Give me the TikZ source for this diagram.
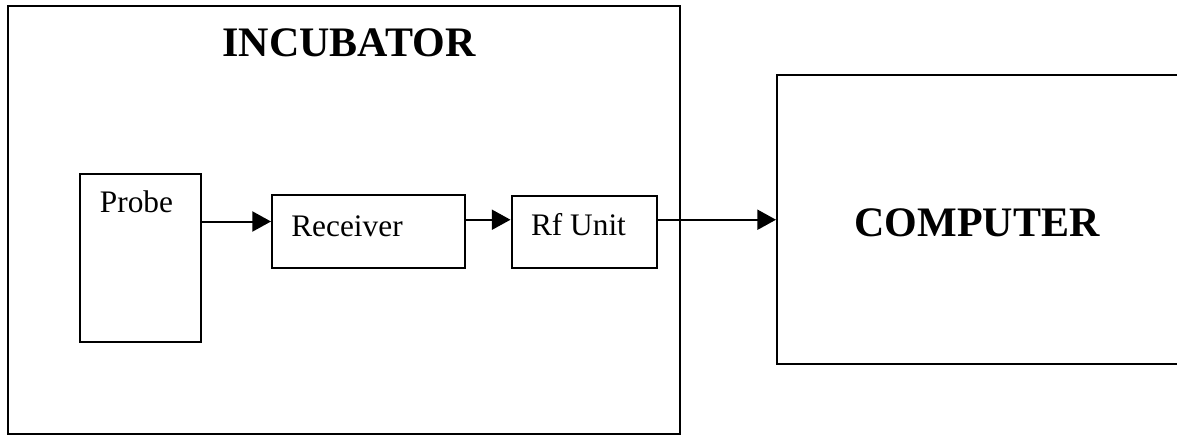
\documentclass[tikz,border=0pt]{standalone}
\usepackage{fontspec}
\setmainfont{Liberation Serif}
\usetikzlibrary{arrows.meta}

\tikzset{every picture/.style={line width=1.5pt}}
\tikzset{
  blockbox/.style={draw, rectangle, inner sep=0pt, anchor=north west},
  flow/.style={-{Triangle[length=14pt,width=15pt]}},
  plainlabel/.style={anchor=base, inner sep=0.75pt, font=\fontsize{23.5}{28}\selectfont},
  titlelabel/.style={anchor=base, inner sep=0.75pt, font=\fontsize{31.5}{38}\selectfont\bfseries}
}

\begin{document}
\begin{tikzpicture}[x=0.75pt,y=0.75pt,yscale=-1,xscale=1]
    %page is 1177 x 435, computer box runs off the right side
    \clip (0,0) rectangle (1177,435);

    %Shape: Rectangle [incubator]
    \node [blockbox, minimum width=504pt, minimum height=321pt] (incubator) at (7,5) {};
    %Shape: Rectangle [probe]
    \node [blockbox, minimum width=90.75pt, minimum height=126pt] (probe) at (79,172.5) {};
    %Shape: Rectangle [receiver]
    \node [blockbox, minimum width=144.75pt, minimum height=54.75pt] (receiver) at (271,194) {};
    %Shape: Rectangle [rf unit]
    \node [blockbox, minimum width=108.75pt, minimum height=54pt] (rfunit) at (510.5,195) {};
    %Shape: Rectangle [computer]
    \node [blockbox, minimum width=303pt, minimum height=216.75pt] (computer) at (776,74) {};

    %arrow heights (yshift follows yscale=-1, so minus is up)
    \coordinate (rxin) at ([yshift=-7.5pt]receiver.west);
    \coordinate (rfin) at ([yshift=-9.2pt]rfunit.west);

    %Straight Lines with arrows
    \draw [flow] (probe.east |- rxin) -- (rxin);
    \draw [flow] (receiver.east |- rfin) -- (rfin);
    \draw [flow] (rfunit.east |- rfin) -- (computer.west |- rfin);

    % Text Node
    \node [titlelabel] (incubatortext) at (349,56) {INCUBATOR};
    % Text Node
    \node [plainlabel] (probetext) at (136.5,212) {Probe};
    % Text Node
    \node [plainlabel] (receivertext) at (347,236) {Receiver};
    % Text Node
    \node [plainlabel] (rfunittext) at (578.5,235) {Rf Unit};
    % Text Node
    \node [titlelabel] (computertext) at (977,236.5) {COMPUTER};

\end{tikzpicture}
\end{document}
